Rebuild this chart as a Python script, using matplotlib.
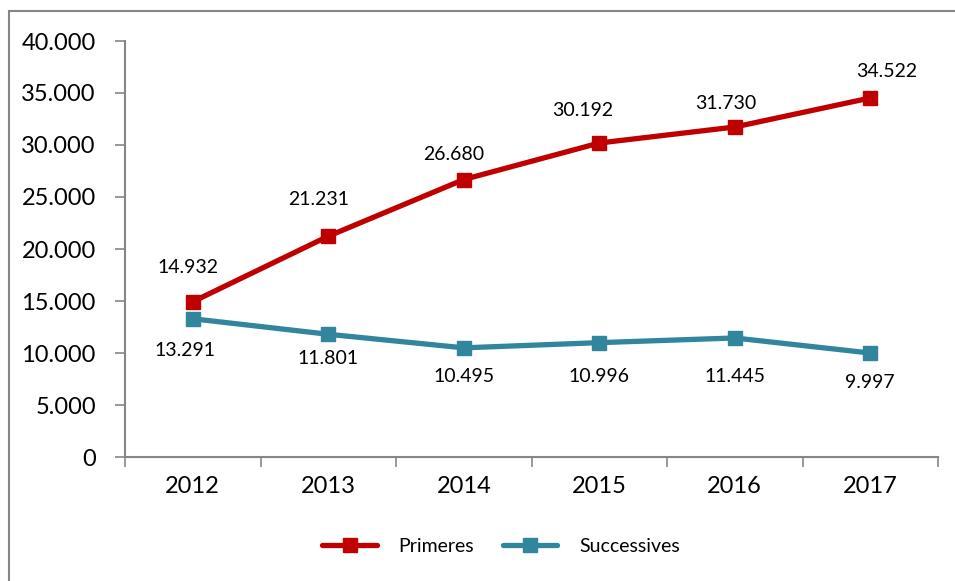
import matplotlib
matplotlib.use("Agg")
import matplotlib.pyplot as plt
from matplotlib.patches import Rectangle
from matplotlib.ticker import FixedLocator, NullFormatter, FuncFormatter

plt.rcParams['font.family'] = ['Lato', 'DejaVu Sans']

years = ['2012', '2013', '2014', '2015', '2016', '2017']
primeres = [14932, 21231, 26680, 30192, 31730, 34522]
successives = [13291, 11801, 10495, 10996, 11445, 9997]
series_names = ['Primeres', 'Successives']
yticks = [0, 5000, 10000, 15000, 20000, 25000, 30000, 35000, 40000]

# label offsets in pixels (dx, dy)
off_p = [(-5, 34), (-10, 37), (-10, 25), (-17, 33), (-9, 24), (16, 26)]
off_s = [(-8, -32), (0, -24), (0, -29), (0, -34), (0, -39), (0, -29)]

RED = '#C00000'
TEAL = '#31859C'
GREY = '#868686'

fig = plt.figure(figsize=(9.55, 5.81), dpi=100)
fig.patches.append(Rectangle((9 / 955, -0.5), 2.0, 1 - 11 / 581 + 0.5,
                             transform=fig.transFigure, fill=False,
                             edgecolor=GREY, linewidth=1.5))
ax = fig.add_axes([125 / 955, 1 - 457 / 581, (938 - 125) / 955, (457 - 41) / 581])

x = list(range(len(years)))
ax.plot(x, primeres, color=RED, lw=3.8, marker='s', ms=9.5, label=series_names[0],
        solid_capstyle='round')
ax.plot(x, successives, color=TEAL, lw=3.8, marker='s', ms=9.5, label=series_names[1],
        solid_capstyle='round')

def fmt(v):
    return f"{v:,}".replace(',', '.')

for xi, v, (dx, dy) in zip(x, primeres, off_p):
    ax.annotate(fmt(v), (xi, v), xytext=(dx, dy), textcoords='offset pixels',
                ha='center', va='center', fontsize=14, color='black')
for xi, v, (dx, dy) in zip(x, successives, off_s):
    ax.annotate(fmt(v), (xi, v), xytext=(dx, dy), textcoords='offset pixels',
                ha='center', va='center', fontsize=14, color='black')

ax.set_xlim(-0.5, len(years) - 0.5)
ax.set_ylim(0, 40000)
ax.set_yticks(yticks)
ax.yaxis.set_major_formatter(FuncFormatter(lambda v, p: fmt(int(v))))
ax.xaxis.set_major_locator(FixedLocator([i - 0.5 for i in range(len(years) + 1)]))
ax.xaxis.set_major_formatter(NullFormatter())
ax.xaxis.set_minor_locator(FixedLocator(x))
ax.set_xticklabels(years, minor=True)
ax.tick_params(axis='x', which='minor', length=0, labelsize=17, pad=14)
ax.tick_params(axis='x', which='major', length=7, width=1.2, color=GREY, direction='out')
ax.tick_params(axis='y', length=7, width=1.2, color=GREY, direction='out', labelsize=17, pad=14)

for s in ['top', 'right']:
    ax.spines[s].set_visible(False)
for s in ['left', 'bottom']:
    ax.spines[s].set_color(GREY)
    ax.spines[s].set_linewidth(1.5)

leg = fig.legend(loc='center', bbox_to_anchor=(501 / 955, 1 - 546 / 581), ncol=2, frameon=False,
                 fontsize=14, handlelength=2.8, columnspacing=1.5, handletextpad=1.1)

fig.savefig('out.png', dpi=100)
